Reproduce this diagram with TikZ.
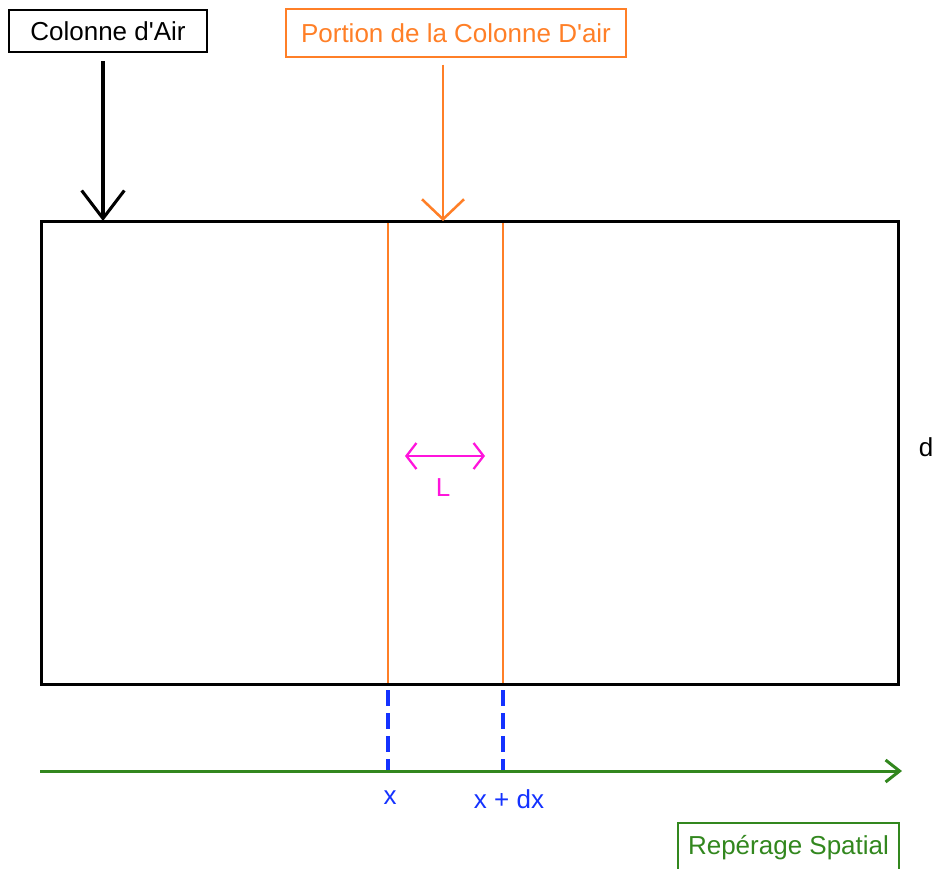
\documentclass[tikz,border=0pt]{standalone}
\usepackage{fontspec}
\setmainfont{Liberation Sans}
\usetikzlibrary{arrows.meta}
\definecolor{portion}{RGB}{255,127,39}
\definecolor{repere}{RGB}{50,135,30}
\definecolor{abscisse}{RGB}{20,50,255}
\definecolor{largeur}{RGB}{255,20,220}

\begin{document}
\begin{tikzpicture}[x=0.75pt, y=-0.75pt,
  every node/.style={font=\fontsize{19.5}{23}\selectfont, inner sep=0pt},
  titre/.style={draw, line width=1.5pt, minimum height=36pt}]
  \useasboundingbox (0,0) rectangle (934,868);

  % labels
  \node[titre, line width=2pt, minimum width=148.5pt, minimum height=31.5pt] (air) at (108,31) {Colonne d\textquotesingle Air};
  \node[titre, color=portion, minimum width=255pt] (portion) at (456,33) {Portion de la Colonne D\textquotesingle air};
  \node[titre, color=repere, minimum width=165.75pt, minimum height=37.5pt] (repere) at (788.5,848) {Repérage Spatial};

  \coordinate (airtip) at (103,221);
  \coordinate (portiontip) at (443,221);
  \coordinate (xa) at (388,771);
  \coordinate (xb) at (503,771);

  % la tranche
  \foreach \p in {xa,xb}
    \draw[color=portion, line width=2pt] (\p |- 0,221) -- (\p |- 0,684);
  \draw[line width=2.25pt] (41,221) rectangle (898,684);

  \draw[line width=2.3pt, -{Straight Barb[length=21pt, width=32pt]}, shorten <=6pt]
    (air.south -| airtip) -- (airtip);
  \draw[color=portion, line width=1.9pt, -{Straight Barb[length=15pt, width=31.5pt]}, shorten <=5pt]
    (portion.south -| portiontip) -- (portiontip);

  \draw[color=largeur, line width=1.7pt, {Straight Barb[length=7.5pt, width=19.5pt]}-{Straight Barb[length=7.5pt, width=19.5pt]}]
    (405,456) -- (485,456);
  \node[color=largeur] (L) at (443,488) {L};
  \node (d) at (926,447) {d};

  % axe
  \foreach \p in {xa,xb}
    \draw[color=abscisse, line width=3pt, dash pattern=on 12pt off 5.25pt] (\p |- 0,690) -- (\p);
  \draw[color=repere, line width=2.25pt, -{Straight Barb[length=10.5pt, width=16.5pt]}]
    (40,771) -- (902,771);
  \node[color=abscisse] (xlabel) at (390,798) {x};
  \node[color=abscisse] (dxlabel) at (509,799) {x + dx};
\end{tikzpicture}
\end{document}
